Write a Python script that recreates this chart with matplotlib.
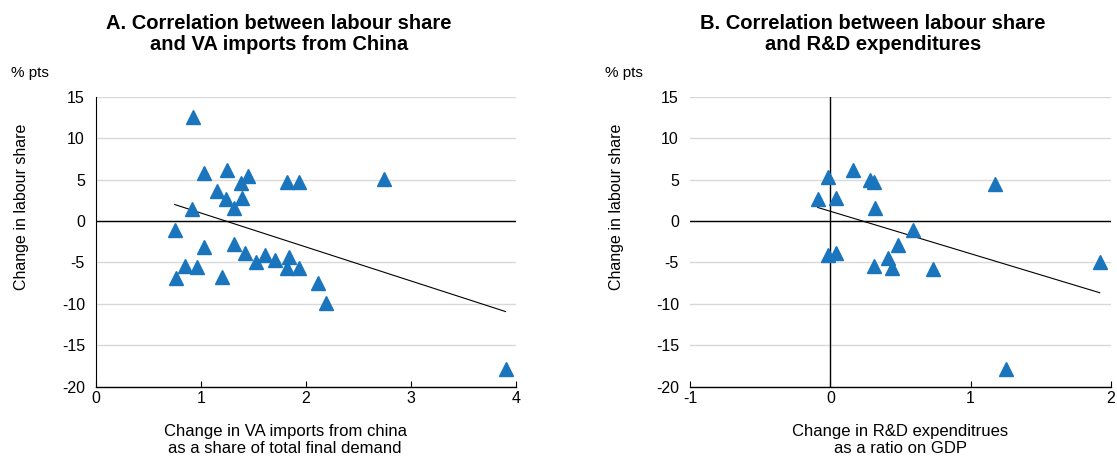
import numpy as np
import matplotlib
matplotlib.use("Agg")
import matplotlib.pyplot as plt

plt.rcParams['font.family'] = ['Liberation Sans', 'DejaVu Sans']
plt.rcParams['axes.unicode_minus'] = False

# Panel A data: change in VA imports from China vs change in labour share
a_x = [0.92, 1.03, 1.25, 1.45, 1.38, 1.82, 1.93, 2.74, 1.15, 1.24, 1.39, 1.31, 0.91,
       0.75, 1.03, 1.31, 1.42, 1.61, 1.52, 1.70, 1.84, 1.82, 1.93, 0.85, 0.96, 0.76,
       1.20, 2.11, 2.19, 3.90]
a_y = [12.5, 5.8, 6.2, 5.4, 4.6, 4.7, 4.7, 5.1, 3.6, 2.7, 2.8, 1.6, 1.5,
       -1.1, -3.2, -2.8, -3.9, -4.1, -5.0, -4.7, -4.4, -5.7, -5.7, -5.4, -5.6, -6.9,
       -6.8, -7.5, -9.9, -17.9]
a_trend = (-4.1, 5.06)  # slope, intercept

# Panel B data: change in R&D expenditures vs change in labour share
b_x = [-0.02, 0.16, 0.28, 0.31, 1.17, -0.09, 0.04, 0.32, 0.59, 0.48, -0.02, 0.04,
       0.41, 0.31, 0.44, 0.73, 1.92, 1.25]
b_y = [5.3, 6.2, 5.0, 4.7, 4.5, 2.6, 2.8, 1.6, -1.1, -2.9, -4.1, -3.9,
       -4.5, -5.4, -5.7, -5.8, -4.9, -17.9]
b_trend = (-5.12, 1.17)

y_ticks = [15, 10, 5, 0, -5, -10, -15, -20]

marker_color = '#1a75bc'
W, H = 1117, 457
fig = plt.figure(figsize=(W / 100, H / 100), dpi=100)

def px(x0, x1, y0, y1):
    return [x0 / W, 1 - y1 / H, (x1 - x0) / W, (y1 - y0) / H]

axA = fig.add_axes(px(96, 516, 96.7, 386.7))
axB = fig.add_axes(px(690, 1111, 96.7, 386.7))

def style(ax, xlim, xticks, left_spine):
    ax.set_ylim(-20, 15)
    ax.set_xlim(*xlim)
    ax.set_yticks(y_ticks)
    ax.set_xticks(xticks)
    ax.grid(axis='y', color='#d9d9d9', linewidth=1)
    ax.set_axisbelow(True)
    for s in ['top', 'right']:
        ax.spines[s].set_visible(False)
    ax.spines['left'].set_visible(left_spine)
    ax.spines['left'].set_color('black')
    ax.spines['bottom'].set_color('black')
    ax.spines['bottom'].set_linewidth(1.0)
    ax.tick_params(axis='y', length=0, labelsize=11.5, pad=8)
    ax.tick_params(axis='x', direction='in', length=4, labelsize=11.5, pad=3)
    ax.axhline(0, color='black', linewidth=1.0, zorder=1)

style(axA, (0, 4), [0, 1, 2, 3, 4], True)
style(axB, (-1, 2), [-1, 0, 1, 2], False)
axB.axvline(0, color='black', linewidth=1.0, zorder=1)

axA.plot(a_x, a_y, linestyle='none', marker='^', ms=9.5, color=marker_color, zorder=3)
axB.plot(b_x, b_y, linestyle='none', marker='^', ms=9.5, color=marker_color, zorder=3)

ta = np.array([min(a_x), max(a_x)])
axA.plot(ta, a_trend[0] * ta + a_trend[1], color='black', linewidth=0.8, zorder=2)
tb = np.array([min(b_x), max(b_x)])
axB.plot(tb, b_trend[0] * tb + b_trend[1], color='black', linewidth=0.8, zorder=2)

# Titles
fig.text(279 / W, 1 - 34 / H, "A. Correlation between labour share\nand VA imports from China",
         ha='center', va='center', fontsize=14.5, fontweight='bold', linespacing=1.1)
fig.text(873 / W, 1 - 34 / H, "B. Correlation between labour share\nand R&D expenditures",
         ha='center', va='center', fontsize=14.5, fontweight='bold', linespacing=1.1)

# Units
fig.text(11 / W, 1 - 73 / H, "% pts", ha='left', va='center', fontsize=11)
fig.text(605 / W, 1 - 73 / H, "% pts", ha='left', va='center', fontsize=11)

# Y labels
fig.text(22 / W, 1 - 207 / H, "Change in labour share", rotation=90,
         ha='center', va='center', fontsize=11.5)
fig.text(617 / W, 1 - 207 / H, "Change in labour share", rotation=90,
         ha='center', va='center', fontsize=11.5)

# X labels
fig.text(285 / W, 1 - 440 / H, "Change in VA imports from china\nas a share of total final demand",
         ha='center', va='center', fontsize=12, linespacing=1.15)
fig.text(900 / W, 1 - 440 / H, "Change in R&D expenditrues\nas a ratio on GDP",
         ha='center', va='center', fontsize=12, linespacing=1.15)

fig.savefig("out.png", dpi=100)
